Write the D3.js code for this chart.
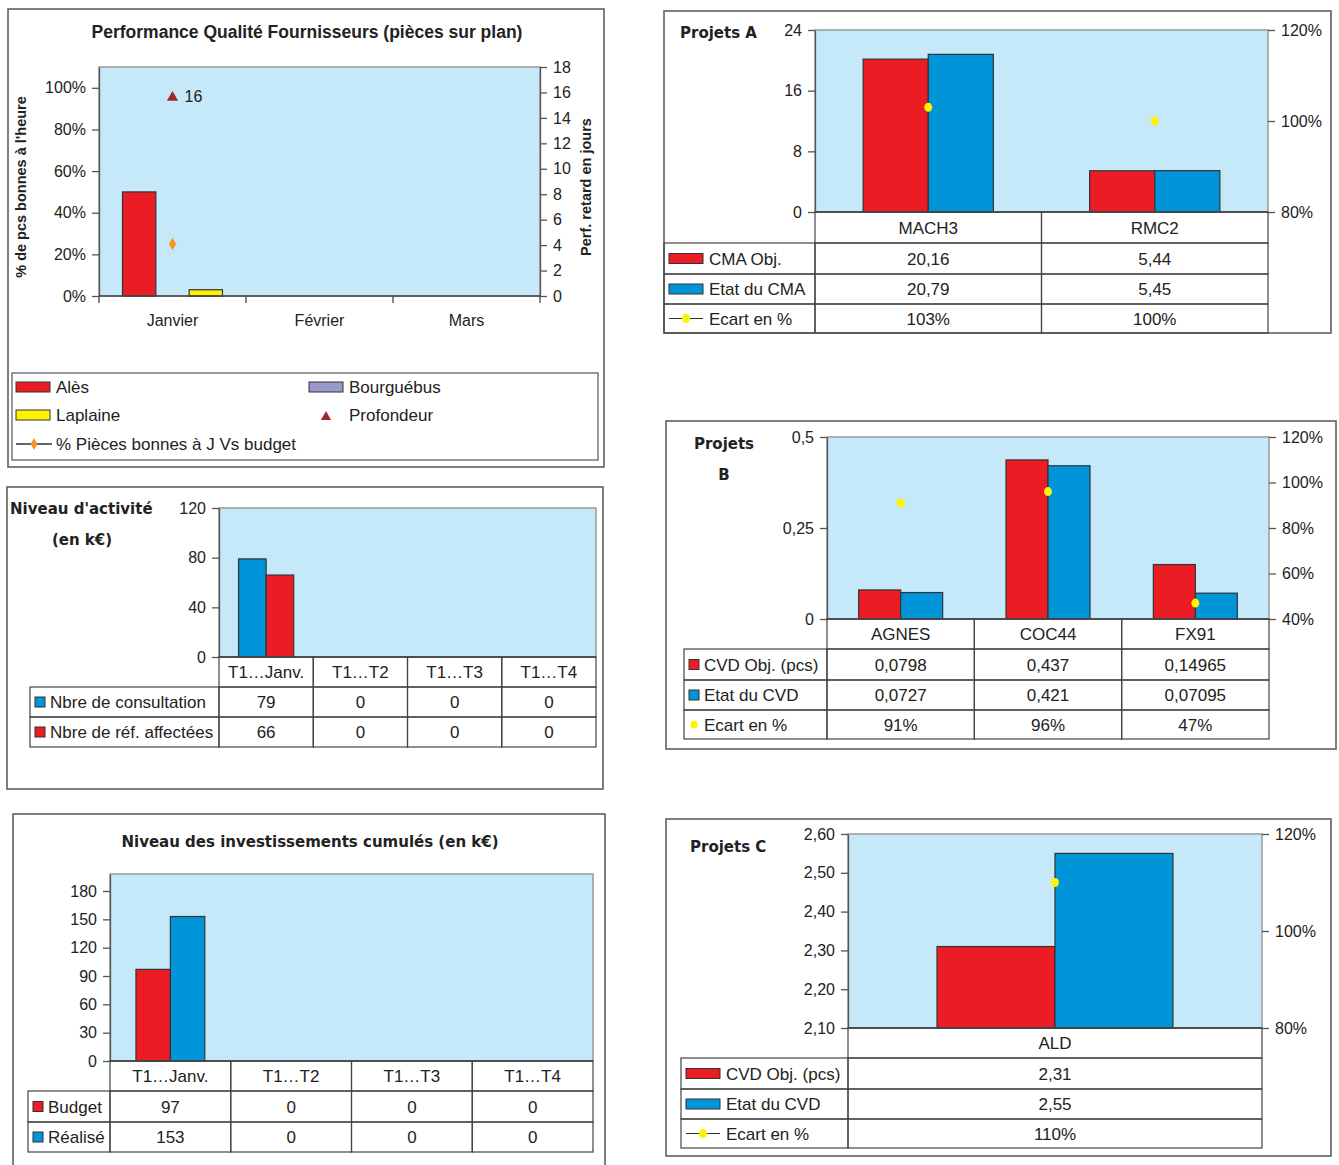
<!DOCTYPE html>
<html>
<head>
<meta charset="utf-8">
<script src="https://cdn.jsdelivr.net/npm/d3@7"></script>
<style>
  body { margin: 0; background: #fff; }
  text { font-family: "Liberation Sans", Arial, sans-serif; fill: #222; }
</style>
</head>
<body>
<script>
// ---------- data ----------
// Performance Qualité Fournisseurs
var months = ["Janvier", "Février", "Mars"];
var alesVals = [0.50, null, null];
var bourgVals = [0, null, null];
var laplaineVals = [0.03, null, null];
var profondeurVals = [16, null, null];      // right axis (jours)
var piecesBonnesVals = [0.25, null, null];  // left axis (%)
var pctTicks = [0, 0.2, 0.4, 0.6, 0.8, 1.0];
var joursTicks = [0, 2, 4, 6, 8, 10, 12, 14, 16, 18];

// Projets A
var projA = ["MACH3", "RMC2"];
var cmaObj = [20.16, 5.44];
var cmaEtat = [20.79, 5.45];
var cmaEcart = [103, 100];

// Niveau d'activité
var periods = ["T1…Janv.", "T1…T2", "T1…T3", "T1…T4"];
var nbConsult = [79, 0, 0, 0];
var nbRef = [66, 0, 0, 0];

// Projets B
var projB = ["AGNES", "COC44", "FX91"];
var cvdObjB = [0.0798, 0.437, 0.14965];
var cvdEtatB = [0.0727, 0.421, 0.07095];
var ecartB = [91, 96, 47];

// Investissements cumulés
var budget = [97, 0, 0, 0];
var realise = [153, 0, 0, 0];

// Projets C
var projC = ["ALD"];
var cvdObjC = [2.31];
var cvdEtatC = [2.55];
var ecartC = [110];

// ---------- style ----------
var RED = "#EC1C24", BLUE = "#0094D9", YEL = "#FFF200", PURP = "#9999CC",
    TRI = "#A1262D", ORNG = "#F7941D", BG = "#C5E9F8", EDGE = "#555";
var HAND = "'DejaVu Sans', sans-serif";
var FS = 17;   // table / legend text
var comma = function(v) { return String(v).replace(".", ","); };

var svg = d3.select("body").append("svg")
  .attr("width", 1339).attr("height", 1165);

function box(x0, y0, x1, y1) {
  svg.append("rect").attr("x", x0).attr("y", y0)
    .attr("width", x1 - x0).attr("height", y1 - y0)
    .attr("fill", "#fff").attr("stroke", EDGE).attr("stroke-width", 1.5);
}

function styleAxis(g) {
  g.attr("font-family", null).attr("font-size", null);
  g.selectAll("path,line").attr("stroke", EDGE).attr("stroke-width", 1.3);
  g.selectAll("text").attr("font-size", 16).attr("fill", "#222");
}

function handTitle(lines, x, y, anchor) {
  lines.forEach(function(t, i) {
    svg.append("text").attr("x", x).attr("y", y + i * 31)
      .attr("text-anchor", anchor || "start")
      .attr("font-weight", "bold")
      .attr("font-size", 15).style("font-family", HAND).text(t);
  });
}

// generic bar chart with data table underneath
function tablePanel(c) {
  var p = c.plot;
  svg.append("rect").attr("x", p.x0).attr("y", p.y0)
    .attr("width", p.x1 - p.x0).attr("height", p.y1 - p.y0)
    .attr("fill", BG).attr("stroke", "#999").attr("stroke-width", 1.5);

  var x = d3.scaleBand().domain(c.cats).range([p.x0, p.x1]);
  var gw = x.bandwidth() * c.group;
  var xs = d3.scaleBand().domain(c.series.map(function(s) { return s.name; })).range([0, gw]);
  var y = d3.scaleLinear().domain(c.yDomain).range([p.y1, p.y0]);

  c.series.forEach(function(s) {
    svg.append("g").selectAll("rect").data(s.values).join("rect")
      .attr("x", function(d, i) { return x(c.cats[i]) + (x.bandwidth() - gw) / 2 + xs(s.name); })
      .attr("y", function(d) { return y(d); })
      .attr("width", xs.bandwidth())
      .attr("height", function(d) { return y(c.yDomain[0]) - y(d); })
      .attr("fill", s.color).attr("stroke", "#333").attr("stroke-width", 1.2);
  });

  var ax = svg.append("g").attr("transform", "translate(" + p.x0 + ",0)")
    .call(d3.axisLeft(y).tickValues(c.yTicks).tickFormat(c.yFormat).tickSize(7).tickPadding(6).tickSizeOuter(0));
  styleAxis(ax);

  var yR = null;
  if (c.line) {
    yR = d3.scaleLinear().domain(c.line.domain).range([p.y1, p.y0]);
    var axR = svg.append("g").attr("transform", "translate(" + p.x1 + ",0)")
      .call(d3.axisRight(yR).tickValues(c.line.ticks).tickFormat(function(d) { return d + "%"; })
        .tickSize(7).tickPadding(6).tickSizeOuter(0));
    styleAxis(axR);
    axR.select(".domain").remove();
    svg.append("g").selectAll("ellipse").data(c.line.values).join("ellipse")
      .attr("cx", function(d, i) { return x(c.cats[i]) + x.bandwidth() / 2; })
      .attr("cy", function(d) { return yR(d); })
      .attr("rx", 4).attr("ry", 4.5).attr("fill", YEL);
  }
  // baseline
  svg.append("line").attr("x1", p.x0).attr("x2", p.x1).attr("y1", p.y1).attr("y2", p.y1)
    .attr("stroke", "#444").attr("stroke-width", 1.6);

  // table
  var t = c.table;
  var rows = c.series.map(function(s) {
    return { name: s.name, values: s.values, color: s.color, fmt: c.valFormat, key: c.keyStyle };
  });
  if (c.line) rows.push({ name: c.line.name, values: c.line.values, color: YEL,
    fmt: function(d) { return d + "%"; }, key: c.lineKey });

  var tg = svg.append("g").attr("stroke", "#444").attr("stroke-width", 1.2).attr("fill", "none");
  // header row
  c.cats.forEach(function(cat) {
    tg.append("rect").attr("x", x(cat)).attr("y", t.rows[0])
      .attr("width", x.bandwidth()).attr("height", t.rows[1] - t.rows[0]);
    svg.append("text").attr("x", x(cat) + x.bandwidth() / 2).attr("y", (t.rows[0] + t.rows[1]) / 2 + 6)
      .attr("text-anchor", "middle").attr("font-size", FS).text(cat);
  });
  rows.forEach(function(r, ri) {
    var y0 = t.rows[ri + 1], y1 = t.rows[ri + 2], ym = (y0 + y1) / 2;
    tg.append("rect").attr("x", t.left).attr("y", y0).attr("width", p.x0 - t.left).attr("height", y1 - y0);
    c.cats.forEach(function(cat, i) {
      tg.append("rect").attr("x", x(cat)).attr("y", y0).attr("width", x.bandwidth()).attr("height", y1 - y0);
      svg.append("text").attr("x", x(cat) + x.bandwidth() / 2).attr("y", ym + 6)
        .attr("text-anchor", "middle").attr("font-size", FS).text(r.fmt(r.values[i]));
    });
    var kx = t.left + 5, tx;
    if (r.key === "wide") {
      svg.append("rect").attr("x", kx).attr("y", ym - 5).attr("width", 34).attr("height", 10)
        .attr("fill", r.color).attr("stroke", "#333").attr("stroke-width", 1);
      tx = kx + 40;
    } else if (r.key === "square") {
      svg.append("rect").attr("x", kx).attr("y", ym - 5).attr("width", 10).attr("height", 10)
        .attr("fill", r.color).attr("stroke", "#333").attr("stroke-width", 1);
      tx = kx + 15;
    } else if (r.key === "line") {
      svg.append("line").attr("x1", kx).attr("x2", kx + 34).attr("y1", ym).attr("y2", ym)
        .attr("stroke", "#333").attr("stroke-width", 1.2);
      svg.append("ellipse").attr("cx", kx + 17).attr("cy", ym).attr("rx", 4).attr("ry", 4.5).attr("fill", YEL);
      tx = kx + 40;
    } else {
      svg.append("ellipse").attr("cx", kx + 5).attr("cy", ym).attr("rx", 3.5).attr("ry", 4).attr("fill", YEL);
      tx = kx + 15;
    }
    svg.append("text").attr("x", tx).attr("y", ym + 6).attr("font-size", FS).text(r.name);
  });
}

// ---------- Panel 1 : Performance Qualité Fournisseurs ----------
(function() {
  box(8, 9, 604, 467);
  svg.append("text").attr("x", 307).attr("y", 38).attr("text-anchor", "middle")
    .attr("font-weight", "bold").attr("font-size", 17.5).text("Performance Qualité Fournisseurs (pièces sur plan)");
  var p = { x0: 99, x1: 540, y0: 67, y1: 296 };
  svg.append("rect").attr("x", p.x0).attr("y", p.y0).attr("width", p.x1 - p.x0).attr("height", p.y1 - p.y0)
    .attr("fill", BG).attr("stroke", "#999").attr("stroke-width", 1.5);

  var x = d3.scaleBand().domain(months).range([p.x0, p.x1]);
  var yL = d3.scaleLinear().domain([0, 1.10]).range([p.y1, p.y0]);
  var yR = d3.scaleLinear().domain([0, 18]).range([p.y1, p.y0]);
  var barSeries = [
    { name: "Alès", values: alesVals, color: RED },
    { name: "Bourguébus", values: bourgVals, color: PURP },
    { name: "Laplaine", values: laplaineVals, color: YEL }
  ];
  var gw = x.bandwidth() * 0.68;
  var xs = d3.scaleBand().domain(barSeries.map(function(s) { return s.name; })).range([0, gw]);
  barSeries.forEach(function(s) {
    svg.append("g").selectAll("rect").data(s.values).join("rect")
      .filter(function(d) { return d; })
      .attr("x", function(d, i) { return x(months[i]) + (x.bandwidth() - gw) / 2 + xs(s.name); })
      .attr("y", function(d) { return yL(d); })
      .attr("width", xs.bandwidth())
      .attr("height", function(d) { return yL(0) - yL(d); })
      .attr("fill", s.color).attr("stroke", "#333").attr("stroke-width", 1.2);
  });

  var axL = svg.append("g").attr("transform", "translate(" + p.x0 + ",0)")
    .call(d3.axisLeft(yL).tickValues(pctTicks).tickFormat(d3.format(".0%")).tickSize(7).tickPadding(6).tickSizeOuter(0));
  styleAxis(axL);
  var axR = svg.append("g").attr("transform", "translate(" + p.x1 + ",0)")
    .call(d3.axisRight(yR).tickValues(joursTicks).tickSize(7).tickPadding(6).tickSizeOuter(0));
  styleAxis(axR);

  svg.append("line").attr("x1", p.x0).attr("x2", p.x1).attr("y1", p.y1).attr("y2", p.y1)
    .attr("stroke", "#444").attr("stroke-width", 1.6);
  months.forEach(function(m) {
    svg.append("line").attr("x1", x(m)).attr("x2", x(m)).attr("y1", p.y1).attr("y2", p.y1 + 7)
      .attr("stroke", "#444").attr("stroke-width", 1.3);
    svg.append("text").attr("x", x(m) + x.bandwidth() / 2).attr("y", 326)
      .attr("text-anchor", "middle").attr("font-size", 16).text(m);
  });
  svg.append("line").attr("x1", p.x1).attr("x2", p.x1).attr("y1", p.y1).attr("y2", p.y1 + 7)
    .attr("stroke", "#444").attr("stroke-width", 1.3);

  // Profondeur (triangles, right axis)
  profondeurVals.forEach(function(d, i) {
    if (d == null) return;
    var cx = x(months[i]) + x.bandwidth() / 2;
    svg.append("path").attr("d", d3.symbol(d3.symbolTriangle, 55)())
      .attr("transform", "translate(" + cx + "," + (yR(d) + 5) + ")").attr("fill", TRI);
    svg.append("text").attr("x", cx + 12).attr("y", yR(d) + 10).attr("font-size", 16).text(d);
  });
  // % pièces bonnes (line + diamond, left axis)
  var line = d3.line().defined(function(d) { return d != null; })
    .x(function(d, i) { return x(months[i]) + x.bandwidth() / 2; })
    .y(function(d) { return yL(d); });
  svg.append("path").datum(piecesBonnesVals).attr("d", line).attr("fill", "none").attr("stroke", "#333");
  piecesBonnesVals.forEach(function(d, i) {
    if (d == null) return;
    svg.append("path").attr("d", d3.symbol(d3.symbolDiamond, 45)())
      .attr("transform", "translate(" + (x(months[i]) + x.bandwidth() / 2) + "," + yL(d) + ")").attr("fill", ORNG);
  });

  // axis titles
  svg.append("text").attr("transform", "translate(26,187) rotate(-90)").attr("text-anchor", "middle")
    .attr("font-weight", "bold").attr("font-size", 14.5).text("% de pcs bonnes à l'heure");
  svg.append("text").attr("transform", "translate(591,187) rotate(-90)").attr("text-anchor", "middle")
    .attr("font-weight", "bold").attr("font-size", 14.5).text("Perf. retard en jours");

  // legend
  svg.append("rect").attr("x", 12).attr("y", 373).attr("width", 586).attr("height", 87)
    .attr("fill", "none").attr("stroke", EDGE).attr("stroke-width", 1.2);
  var leg = [
    { name: "Alès", kind: "rect", color: RED, x: 16, y: 387 },
    { name: "Bourguébus", kind: "rect", color: PURP, x: 309, y: 387 },
    { name: "Laplaine", kind: "rect", color: YEL, x: 16, y: 415 },
    { name: "Profondeur", kind: "tri", color: TRI, x: 309, y: 415 },
    { name: "% Pièces bonnes à J Vs budget", kind: "line", color: ORNG, x: 16, y: 444 }
  ];
  leg.forEach(function(l) {
    if (l.kind === "rect") {
      svg.append("rect").attr("x", l.x).attr("y", l.y - 5).attr("width", 34).attr("height", 10)
        .attr("fill", l.color).attr("stroke", "#333").attr("stroke-width", 1);
    } else if (l.kind === "tri") {
      svg.append("path").attr("d", d3.symbol(d3.symbolTriangle, 45)())
        .attr("transform", "translate(" + (l.x + 17) + "," + (l.y + 2) + ")").attr("fill", l.color);
    } else {
      svg.append("line").attr("x1", l.x).attr("x2", l.x + 36).attr("y1", l.y).attr("y2", l.y)
        .attr("stroke", "#333").attr("stroke-width", 1.5);
      svg.append("path").attr("d", d3.symbol(d3.symbolDiamond, 40)())
        .attr("transform", "translate(" + (l.x + 18) + "," + l.y + ")").attr("fill", l.color);
    }
    svg.append("text").attr("x", l.x + 40).attr("y", l.y + 6).attr("font-size", FS).text(l.name);
  });
})();

// ---------- Panel A ----------
box(664, 11, 1331, 333);
handTitle(["Projets A"], 680, 38);
tablePanel({
  plot: { x0: 815, x1: 1268, y0: 30, y1: 212 },
  cats: projA, group: 0.575,
  series: [{ name: "CMA Obj.", values: cmaObj, color: RED }, { name: "Etat du CMA", values: cmaEtat, color: BLUE }],
  yDomain: [0, 24], yTicks: [0, 8, 16, 24], yFormat: function(d) { return d; },
  line: { name: "Ecart en %", values: cmaEcart, domain: [80, 120], ticks: [80, 100, 120] },
  valFormat: comma, keyStyle: "wide", lineKey: "line",
  table: { left: 664, rows: [212, 243, 274, 304, 333] }
});

// ---------- Panel Niveau d'activité ----------
box(7, 487, 603, 789);
handTitle(["Niveau d'activité"], 10, 514);
handTitle(["(en k€)"], 82, 545, "middle");
tablePanel({
  plot: { x0: 219, x1: 596, y0: 508, y1: 657 },
  cats: periods, group: 0.585,
  series: [{ name: "Nbre de consultation", values: nbConsult, color: BLUE }, { name: "Nbre de réf. affectées", values: nbRef, color: RED }],
  yDomain: [0, 120], yTicks: [0, 40, 80, 120], yFormat: function(d) { return d; },
  valFormat: comma, keyStyle: "square",
  table: { left: 30, rows: [657, 687, 717, 747] }
});

// ---------- Panel B ----------
box(666, 421, 1336, 749);
handTitle(["Projets", "B"], 724, 449, "middle");
tablePanel({
  plot: { x0: 827, x1: 1269, y0: 437, y1: 619 },
  cats: projB, group: 0.57,
  series: [{ name: "CVD Obj. (pcs)", values: cvdObjB, color: RED }, { name: "Etat du CVD", values: cvdEtatB, color: BLUE }],
  yDomain: [0, 0.5], yTicks: [0, 0.25, 0.5], yFormat: comma,
  line: { name: "Ecart en %", values: ecartB, domain: [40, 120], ticks: [40, 60, 80, 100, 120] },
  valFormat: comma, keyStyle: "square", lineKey: "dot",
  table: { left: 684, rows: [619, 649, 680, 710, 739] }
});

// ---------- Panel Investissements ----------
box(13, 814, 605, 1175);
handTitle(["Niveau des investissements cumulés (en k€)"], 310, 847, "middle");
tablePanel({
  plot: { x0: 110, x1: 593, y0: 874, y1: 1061 },
  cats: periods, group: 0.57,
  series: [{ name: "Budget", values: budget, color: RED }, { name: "Réalisé", values: realise, color: BLUE }],
  yDomain: [0, 198], yTicks: [0, 30, 60, 90, 120, 150, 180], yFormat: function(d) { return d; },
  valFormat: comma, keyStyle: "square",
  table: { left: 28, rows: [1061, 1091, 1122, 1152] }
});

// ---------- Panel C ----------
box(666, 819, 1331, 1156);
handTitle(["Projets C"], 690, 852);
tablePanel({
  plot: { x0: 848, x1: 1262, y0: 834, y1: 1028 },
  cats: projC, group: 0.57,
  series: [{ name: "CVD Obj. (pcs)", values: cvdObjC, color: RED }, { name: "Etat du CVD", values: cvdEtatC, color: BLUE }],
  yDomain: [2.10, 2.60], yTicks: [2.1, 2.2, 2.3, 2.4, 2.5, 2.6],
  yFormat: function(d) { return d3.format(".2f")(d).replace(".", ","); },
  line: { name: "Ecart en %", values: ecartC, domain: [80, 120], ticks: [80, 100, 120] },
  valFormat: comma, keyStyle: "wide", lineKey: "line",
  table: { left: 681, rows: [1028, 1058, 1089, 1119, 1148] }
});
</script>
</body>
</html>
